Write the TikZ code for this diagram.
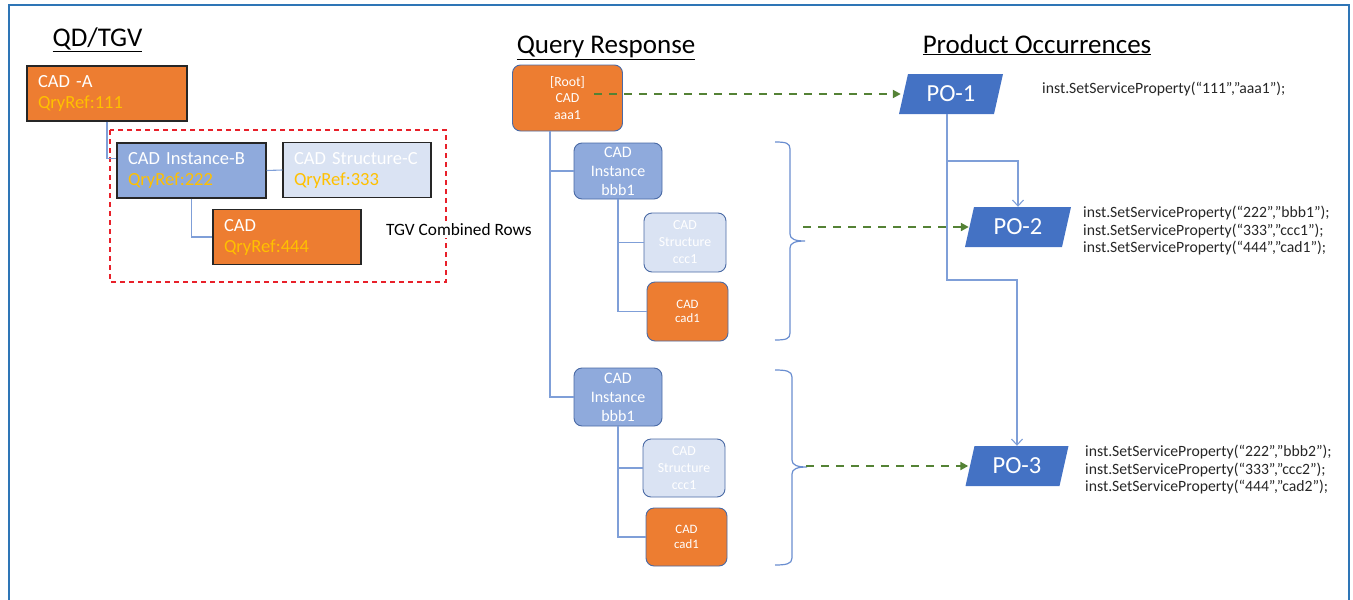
\documentclass[tikz,border=0pt]{standalone}
\usepackage{fontspec}
\setmainfont{Carlito}
\usetikzlibrary{arrows.meta,calc}
\definecolor{orng}{HTML}{ED7D31}
\definecolor{qyel}{HTML}{FFC000}
\definecolor{instb}{HTML}{8FAADC}
\definecolor{strc}{HTML}{DAE3F3}
\definecolor{pofill}{HTML}{4472C4}
\definecolor{qrborder}{HTML}{4A6AA5}
\definecolor{qdborder}{HTML}{262626}
\definecolor{treeline}{HTML}{7F9FD8}
\definecolor{gline}{HTML}{548235}
\definecolor{frameblue}{HTML}{2E75B6}
\definecolor{bracecol}{HTML}{6A8ED0}
\definecolor{dashred}{HTML}{E8202A}
\begin{document}
\begin{tikzpicture}[x=1pt,y=-1pt,
  title/.style={font=\fontsize{27}{31}\selectfont, anchor=base, inner sep=0pt},
  qdbox/.style={draw=qdborder, line width=1.1pt, inner xsep=11pt, inner ysep=0pt,
    text width=#1, minimum height=55pt, align=left, text=white,
    font=\fontsize{18.5}{21}\selectfont},
  qrbox/.style={draw=qrborder, line width=0.9pt, rounded corners=8pt, inner sep=0pt,
    align=center, text=white},
  tree/.style={draw=treeline, line width=1.1pt},
  garrow/.style={draw=gline, line width=2pt, dash pattern=on 8pt off 7pt,
    -{Triangle[length=8pt,width=8pt]}},
  poline/.style={draw=treeline, line width=1.1pt},
  potip/.style={-{Straight Barb[length=6pt,width=11pt]}},
  po/.style={minimum width=#1, minimum height=40pt, inner sep=0pt, text=white,
    font=\fontsize{24.5}{28}\selectfont,
    path picture={\fill[pofill] (path picture bounding box.south west)
      -- ([xshift=-9pt]path picture bounding box.south east)
      -- (path picture bounding box.north east)
      -- ([xshift=9pt]path picture bounding box.north west) -- cycle;}},
  code/.style={align=left, anchor=west, inner sep=0pt, text=black!85,
    font=\fontsize{15.7}{17.5}\selectfont},
  bracestyle/.style={draw=bracecol, line width=1.2pt}
]
\useasboundingbox (0,0) rectangle (1353,600);
% frame
\draw[frameblue, line width=1.5pt] (9,600) -- (9,5) -- (1349,5) -- (1349,600);

% titles
\node[title] (t1) at (97.5,46) {\underline{QD/TGV}};
\node[title] (t2) at (606,53) {\underline{Query Response}};
\node[title] (t3) at (1037,53) {\underline{Product Occurrences}};

% QD/TGV part
\draw[dashred, line width=1.1pt, dash pattern=on 5pt off 4pt] (110,130) rectangle (446,282);
\node[qdbox=138pt, fill=orng] (cada) at (107,93.5) {CAD -A\\\textcolor{qyel}{QryRef:111}};
\node[qdbox=127pt, fill=instb] (instqd) at (191.5,170.5) {CAD Instance-B\\\textcolor{qyel}{QryRef:222}};
\node[qdbox=126pt, fill=strc] (strqd) at (357,170) {CAD Structure-C\\\textcolor{qyel}{QryRef:333}};
\node[qdbox=126pt, fill=orng] (cadqd) at (287,237) {CAD\\\textcolor{qyel}{QryRef:444}};
\draw[tree] (cada.south) |- ([yshift=12pt]instqd.west);
\draw[tree] (instqd.east) -- (strqd.west);
\draw[tree] (instqd.south) |- (cadqd.west);
\node[fill=white, anchor=west, inner sep=2pt, font=\fontsize{17.3}{20}\selectfont] (tgv) at (384,230) {TGV Combined Rows};

% Query response tree
\node[qrbox, fill=orng, minimum width=110pt, minimum height=66pt, font=\fontsize{13.8}{16.5}\selectfont] (root) at (567.5,98) {[Root]\\CAD\\aaa1};
\node[qrbox, fill=instb, minimum width=88pt, minimum height=56pt, font=\fontsize{16}{19}\selectfont] (inst1) at (618,171) {CAD\\Instance\\bbb1};
\node[qrbox, fill=strc, minimum width=82pt, minimum height=59pt, font=\fontsize{13.8}{17}\selectfont] (str1) at (685,242.5) {CAD\\Structure\\ccc1};
\node[qrbox, fill=orng, minimum width=81pt, minimum height=59pt, font=\fontsize{12.8}{14.5}\selectfont] (cad1) at (687.5,311.5) {CAD\\cad1};
\node[qrbox, fill=instb, minimum width=88pt, minimum height=58pt, font=\fontsize{16}{19}\selectfont] (inst2) at (618,397) {CAD\\Instance\\bbb1};
\node[qrbox, fill=strc, minimum width=82pt, minimum height=58pt, font=\fontsize{13.8}{17}\selectfont] (str2) at (684,468) {CAD\\Structure\\ccc1};
\node[qrbox, fill=orng, minimum width=81pt, minimum height=58pt, font=\fontsize{12.8}{14.5}\selectfont] (cad2) at (686.5,537) {CAD\\cad1};
\draw[tree] ([xshift=-17.5pt]root.south) |- (inst2.west);
\draw[tree] ([xshift=-17.5pt]root.south) |- (inst1.west);
\draw[tree] (inst1.south) |- (str1.west);
\draw[tree] (inst1.south) |- (cad1.west);
\draw[tree] (inst2.south) |- (str2.west);
\draw[tree] (inst2.south) |- (cad2.west);

% braces
\draw[bracestyle] (775,142) .. controls (786,142) and (790,143) .. (790,149) -- (790,234)
  .. controls (790,239) and (795,241) .. (805,241)
  .. controls (795,241) and (790,243) .. (790,248) -- (790,333)
  .. controls (790,339) and (786,340) .. (775,340);
\draw[bracestyle] (775,370) .. controls (786,370) and (792,371) .. (792,377) -- (792,460)
  .. controls (792,465) and (797,467) .. (807,467)
  .. controls (797,467) and (792,469) .. (792,474) -- (792,558)
  .. controls (792,564) and (786,565) .. (775,565);
\coordinate (r1) at (594,94);
\coordinate (b1) at (803,227);
\coordinate (b2) at (806,466);

% product occurrences
\node[po=104pt] (po1) at (951,94) {PO-1};
\node[po=106pt] (po2) at (1018,227) {PO-2};
\node[po=103pt] (po3) at (1017,466) {PO-3};
\coordinate (j1) at (947,161);
\coordinate (j2) at (947,280);
\draw[poline, potip] ([xshift=-4pt]po1.south) -- (j2) -| (po3.north);
\draw[poline, potip] (j1) -| (po2.north);

\draw[garrow] (r1) -- ([xshift=2pt]po1.west);
\draw[garrow] (b1) -- ([xshift=4pt]po2.west);
\draw[garrow] (b2) -- ([xshift=3pt]po3.west);

\node[code] (c1) at (1042,89) {inst.SetServiceProperty(“111”,”aaa1”);};
\node[code] (c2) at (1083,231) {inst.SetServiceProperty(“222”,”bbb1”);\\inst.SetServiceProperty(“333”,”ccc1”);\\inst.SetServiceProperty(“444”,”cad1”);};
\node[code] (c3) at (1085,470) {inst.SetServiceProperty(“222”,”bbb2”);\\inst.SetServiceProperty(“333”,”ccc2”);\\inst.SetServiceProperty(“444”,”cad2”);};
\end{tikzpicture}
\end{document}
